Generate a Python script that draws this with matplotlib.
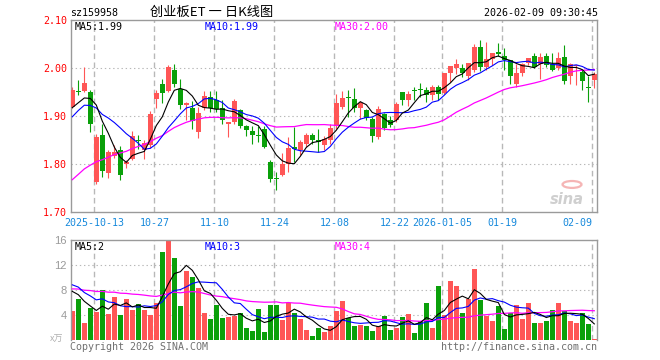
import numpy as np
import matplotlib
matplotlib.use("Agg")
import matplotlib.pyplot as plt
from matplotlib.patches import Circle

plt.rcParams['lines.scale_dashes'] = False

# ---------------- data ----------------
dates = ["09-29", "09-30", "10-09", "10-10", "10-13", "10-14", "10-15", "10-16", "10-17",
         "10-20", "10-21", "10-22", "10-23", "10-24", "10-27", "10-28", "10-29", "10-30", "10-31",
         "11-03", "11-04", "11-05", "11-06", "11-07", "11-10", "11-11", "11-12", "11-13", "11-14",
         "11-17", "11-18", "11-19", "11-20", "11-21", "11-24", "11-25", "11-26", "11-27", "11-28",
         "12-01", "12-02", "12-03", "12-04", "12-05", "12-08", "12-09", "12-10", "12-11", "12-12",
         "12-15", "12-16", "12-17", "12-18", "12-19", "12-22", "12-23", "12-24", "12-25", "12-26",
         "12-29", "12-30", "12-31", "01-05", "01-06", "01-07", "01-08", "01-09", "01-12", "01-13",
         "01-14", "01-15", "01-16", "01-19", "01-20", "01-21", "01-22", "01-23", "01-26", "01-27",
         "01-28", "01-29", "01-30", "02-02", "02-03", "02-04", "02-05", "02-06", "02-09"]

open_ = [1.920, 1.953, 1.952, 1.950, 1.764, 1.861, 1.781, 1.817, 1.829, 1.801,
         1.812, 1.851, 1.830, 1.840, 1.937, 1.968, 1.952, 1.997, 1.957, 1.923,
         1.917, 1.868, 1.918, 1.940, 1.933, 1.918, 1.885, 1.888, 1.9125, 1.879,
         1.869, 1.861, 1.874, 1.805, 1.771, 1.778, 1.801, 1.836, 1.829, 1.843,
         1.862, 1.850, 1.840, 1.851, 1.879, 1.920, 1.941, 1.937, 1.918, 1.9125,
         1.894, 1.856, 1.904, 1.892, 1.892, 1.951, 1.935, 1.955, 1.957, 1.954,
         1.945, 1.962, 1.949, 1.990, 2.001, 2.001, 1.983, 1.996, 2.044, 2.003,
         2.020, 2.034, 2.025, 2.018, 1.967, 1.990, 2.011, 2.025, 2.010, 2.025,
         2.008, 2.001, 2.024, 1.985, 2.004, 1.992, 1.962, 1.976]
high = [1.962, 1.975, 2.002, 1.955, 1.864, 1.883, 1.830, 1.840, 1.838, 1.808,
        1.870, 1.862, 1.850, 1.912, 1.955, 1.978, 2.006, 2.008, 1.977, 1.930,
        1.932, 1.920, 1.953, 1.953, 1.952, 1.933, 1.889, 1.937, 1.916, 1.881,
        1.879, 1.879, 1.879, 1.810, 1.784, 1.824, 1.857, 1.878, 1.850, 1.865,
        1.865, 1.874, 1.860, 1.885, 1.946, 1.953, 1.955, 1.958, 1.932, 1.916,
        1.899, 1.921, 1.906, 1.900, 1.930, 1.951, 1.953, 1.961, 1.969, 1.961,
        1.965, 1.965, 1.991, 2.005, 2.020, 2.010, 2.011, 2.051, 2.060, 2.055,
        2.032, 2.053, 2.043, 2.018, 2.010, 2.012, 2.022, 2.032, 2.032, 2.031,
        2.031, 2.034, 2.048, 2.011, 2.006, 1.996, 1.983, 1.992]
low = [1.918, 1.945, 1.950, 1.867, 1.760, 1.774, 1.772, 1.814, 1.768, 1.792,
       1.808, 1.832, 1.812, 1.835, 1.917, 1.928, 1.950, 1.962, 1.915, 1.893,
       1.874, 1.855, 1.913, 1.909, 1.909, 1.885, 1.857, 1.885, 1.876, 1.858,
       1.842, 1.847, 1.835, 1.763, 1.747, 1.775, 1.784, 1.805, 1.819, 1.836,
       1.842, 1.826, 1.829, 1.842, 1.874, 1.916, 1.899, 1.909, 1.895, 1.893,
       1.847, 1.853, 1.871, 1.878, 1.888, 1.923, 1.921, 1.933, 1.940, 1.930,
       1.933, 1.933, 1.946, 1.972, 1.989, 1.982, 1.975, 1.992, 1.994, 1.996,
       2.006, 2.025, 1.997, 1.968, 1.961, 1.985, 2.006, 2.001, 1.978, 2.003,
       1.994, 1.996, 1.968, 1.967, 1.965, 1.954, 1.930, 1.958]
close = [1.954, 1.951, 1.970, 1.885, 1.857, 1.786, 1.825, 1.826, 1.778, 1.805,
         1.858, 1.848, 1.845, 1.905, 1.948, 1.949, 2.002, 1.967, 1.924, 1.928,
         1.890, 1.906, 1.943, 1.918, 1.916, 1.893, 1.888, 1.932, 1.879, 1.871,
         1.862, 1.859, 1.837, 1.770, 1.769, 1.801, 1.835, 1.831, 1.847, 1.862,
         1.851, 1.847, 1.853, 1.876, 1.928, 1.939, 1.939, 1.918, 1.928, 1.897,
         1.858, 1.916, 1.876, 1.881, 1.926, 1.935, 1.947, 1.953, 1.955, 1.944,
         1.962, 1.947, 1.990, 2.004, 2.010, 1.990, 2.011, 2.044, 2.003, 2.020,
         2.032, 2.029, 2.017, 1.983, 1.990, 2.008, 2.022, 2.003, 2.024, 2.006,
         1.997, 2.022, 1.974, 2.010, 2.006, 1.974, 1.960, 1.989]
volume = [4.7, 6.6, 2.8, 5.2, 4.5, 8.1, 4.2, 6.9, 4.05, 6.6,
          4.85, 5.8, 4.85, 4.05, 6.0, 14.1, 15.9, 13.2, 5.5, 11.1,
          10.1, 8.4, 4.4, 3.4, 5.65, 3.6, 3.7, 3.9, 4.4, 2.0,
          1.5, 5.0, 1.3, 5.65, 5.65, 3.25, 5.9, 4.4, 3.4, 1.65,
          0.7, 2.0, 1.3, 2.3, 4.6, 6.2, 3.5, 2.3, 2.45, 2.3,
          1.5, 2.3, 3.95, 1.65, 2.0, 3.7, 4.2, 1.2, 3.0, 6.0,
          2.0, 8.7, 4.05, 9.4, 8.7, 4.4, 6.55, 11.3, 6.45, 3.95,
          3.0, 5.4, 1.8, 4.4, 5.65, 3.4, 6.0, 2.8, 2.8, 3.15,
          4.85, 6.0, 4.6, 3.0, 2.8, 4.4, 2.6, 0.27]

# estimated history before the visible window (needed for the moving averages)
prior_close = [1.62, 1.63, 1.65, 1.64, 1.66, 1.67, 1.66, 1.68, 1.70, 1.69,
               1.71, 1.72, 1.73, 1.74, 1.78, 1.74, 1.73, 1.75, 1.77, 1.78,
               1.82, 1.86, 1.89, 1.91, 1.92, 1.90, 1.92, 1.89, 1.926]
prior_volume = [7.2, 8.5, 6.8, 9.1, 7.5, 8.0, 7.0, 8.8, 7.6, 8.3,
                7.4, 8.1, 7.9, 8.3, 7.5, 8.2, 7.1, 8.6, 7.4, 8.2,
                10.2, 11.5, 10.6, 10.8, 6.4, 9.2, 8.1, 8.9, 8.1]

tick_dates = ["10-13", "10-27", "11-10", "11-24", "12-08", "12-22", "01-05", "01-19", "02-09"]
tick_labels = ["2025-10-13", "10-27", "11-10", "11-24", "12-08", "12-22", "2026-01-05", "01-19", "02-09"]
price_ticks = [1.70, 1.80, 1.90, 2.00, 2.10]
price_tick_labels = ["1.70", "1.80", "1.90", "2.00", "2.10"]
vol_ticks = [4, 8, 12, 16]
vol_tick_labels = ["4", "8", "12", "16"]

price_ma_text = ["MA5:1.99", "MA10:1.99", "MA30:2.00"]
vol_ma_text = ["MA5:2", "MA10:3", "MA30:4"]
header_code = "sz159958"
header_title = "创业板ET 一 日K线图"
header_time = "2026-02-09 09:30:45"

# ---------------- helpers ----------------
W, H = 660, 360
RED = '#ff5656'
GREEN = '#0aa00a'
GRID = '#b8b8b8'
SPINE = '#9a9a9a'
MONO = 'DejaVu Sans Mono'


def fx(px):
    return px / W


def fy(py):
    return 1 - py / H


def moving_avg(hist, vals, n):
    full = np.array(list(hist) + list(vals), dtype=float)
    out = np.convolve(full, np.ones(n) / n, mode='valid')
    return out[-len(vals):]


n = len(close)
x = np.arange(n)
o = np.array(open_)
c = np.array(close)
hi = np.array(high)
lo = np.array(low)
v = np.array(volume)
up = c >= o
colors = [RED if u else GREEN for u in up]

fig = plt.figure(figsize=(6.6, 3.6), dpi=100)
fig.patch.set_facecolor('white')

L, R = 70.7, 597.3
ax = fig.add_axes([fx(L), fy(212.3), (R - L) / W, (212.3 - 20.3) / H])
axv = fig.add_axes([fx(L), fy(340.3), (R - L) / W, (340.3 - 240.0) / H])

xl = (-0.27, 87.5)
tick_pos = [dates.index(d) - 0.33 for d in tick_dates]

# ---------------- price panel ----------------
ax.set_xlim(*xl)
ax.set_ylim(1.70, 2.10)
for yv in price_ticks[1:-1]:
    ax.axhline(yv, color=GRID, lw=0.8, ls=(0, (1, 2)), zorder=0)
for tp in tick_pos:
    ax.axvline(tp, color=GRID, lw=1.0, ls=(0, (4, 2.5)), zorder=0)

ax.vlines(x, lo, hi, colors=colors, lw=0.8, zorder=2)
body_h = np.maximum(np.abs(c - o), 0.0012)
ax.bar(x, body_h, bottom=np.minimum(o, c), width=0.8, color=colors, linewidth=0, zorder=3)

ma5 = moving_avg(prior_close, close, 5)
ma10 = moving_avg(prior_close, close, 10)
ma30 = moving_avg(prior_close, close, 30)
ax.plot(x, ma30, color='#ff00ff', lw=0.9, zorder=4)
ax.plot(x, ma10, color='#0000ff', lw=0.8, zorder=4)
ax.plot(x, ma5, color='#000000', lw=0.8, zorder=5)

ax.set_yticks(price_ticks)
ax.set_yticklabels(price_tick_labels, family=MONO, fontsize=7.2, color='#ff0000')
ax.tick_params(axis='y', length=0, pad=2.6)
ax.set_xticks(tick_pos)
ax.set_xticklabels(tick_labels, family=MONO, fontsize=7.2, color='#1689dc')
ax.tick_params(axis='x', length=0, pad=3.8)
xlabels = ax.get_xticklabels()
xlabels[-1].set_ha('right')
for sp in ax.spines.values():
    sp.set_color(SPINE)
    sp.set_linewidth(1.0)

# sina watermark
ax.add_patch(Circle((0.952, 0.145), 0.018, transform=ax.transAxes, fill=False,
                    ec='#f5b5b5', lw=1.6, zorder=1))
ax.text(0.975, 0.065, "sina", transform=ax.transAxes, ha='right', va='center',
        fontsize=10.5, fontweight='bold', style='italic', color='#cfcfcf', zorder=1)

# ---------------- volume panel ----------------
axv.set_xlim(*xl)
axv.set_ylim(0, 16)
for yv in vol_ticks[:-1]:
    axv.axhline(yv, color=GRID, lw=0.8, ls=(0, (1, 2)), zorder=0)
for tp in tick_pos:
    axv.axvline(tp, color=GRID, lw=1.0, ls=(0, (4, 2.5)), zorder=0)
axv.bar(x, v, width=0.8, color=colors, linewidth=0, zorder=2)
vma5 = moving_avg(prior_volume, volume, 5)
vma10 = moving_avg(prior_volume, volume, 10)
vma30 = moving_avg(prior_volume, volume, 30)
axv.plot(x, vma30, color='#ff00ff', lw=0.9, zorder=4)
axv.plot(x, vma10, color='#0000ff', lw=0.8, zorder=4)
axv.plot(x, vma5, color='#000000', lw=0.8, zorder=5)
axv.set_yticks(vol_ticks)
axv.set_yticklabels(vol_tick_labels, family='Liberation Sans', fontsize=8, color='#9a9a9a')
axv.tick_params(axis='y', length=0, pad=3.0)
axv.set_xticks([])
axv.spines['bottom'].set_visible(False)
for k in ('top', 'left', 'right'):
    axv.spines[k].set_color(SPINE)
    axv.spines[k].set_linewidth(1.0)

# ---------------- texts ----------------
ma_cols = ['#000000', '#0000ff', '#ff00ff']
ma_x = [75, 205, 335]
for t, col, px in zip(price_ma_text, ma_cols, ma_x):
    fig.text(fx(px), fy(26.5), t, ha='left', va='center', family=MONO, fontsize=7.2, color=col)
for t, col, px in zip(vol_ma_text, ma_cols, ma_x):
    fig.text(fx(px), fy(246.5), t, ha='left', va='center', family=MONO, fontsize=7.2, color=col)

fig.text(fx(70), fy(12.5), header_code, ha='left', va='center', family=MONO, fontsize=7.2, color='#000000')
fig.text(fx(150), fy(12.5), header_title, ha='left', va='center',
         family=['Noto Sans CJK SC', 'DejaVu Sans'], fontsize=9.5, color='#000000')
fig.text(fx(598), fy(12.5), header_time, ha='right', va='center', family=MONO, fontsize=7.2, color='#000000')

fig.text(fx(70), fy(347), "Copyright 2026 SINA.COM", ha='left', va='center', family=MONO,
         fontsize=7.2, color='#707070')
fig.text(fx(597), fy(347), "http://finance.sina.com.cn", ha='right', va='center', family=MONO,
         fontsize=7.2, color='#707070')
fig.text(fx(57), fy(339), "x万", ha='center', va='center',
         family=['Noto Sans CJK SC', 'DejaVu Sans'], fontsize=6.5, color='#b0b0b0', style='italic')

fig.savefig('out.png', dpi=100, facecolor='white')
